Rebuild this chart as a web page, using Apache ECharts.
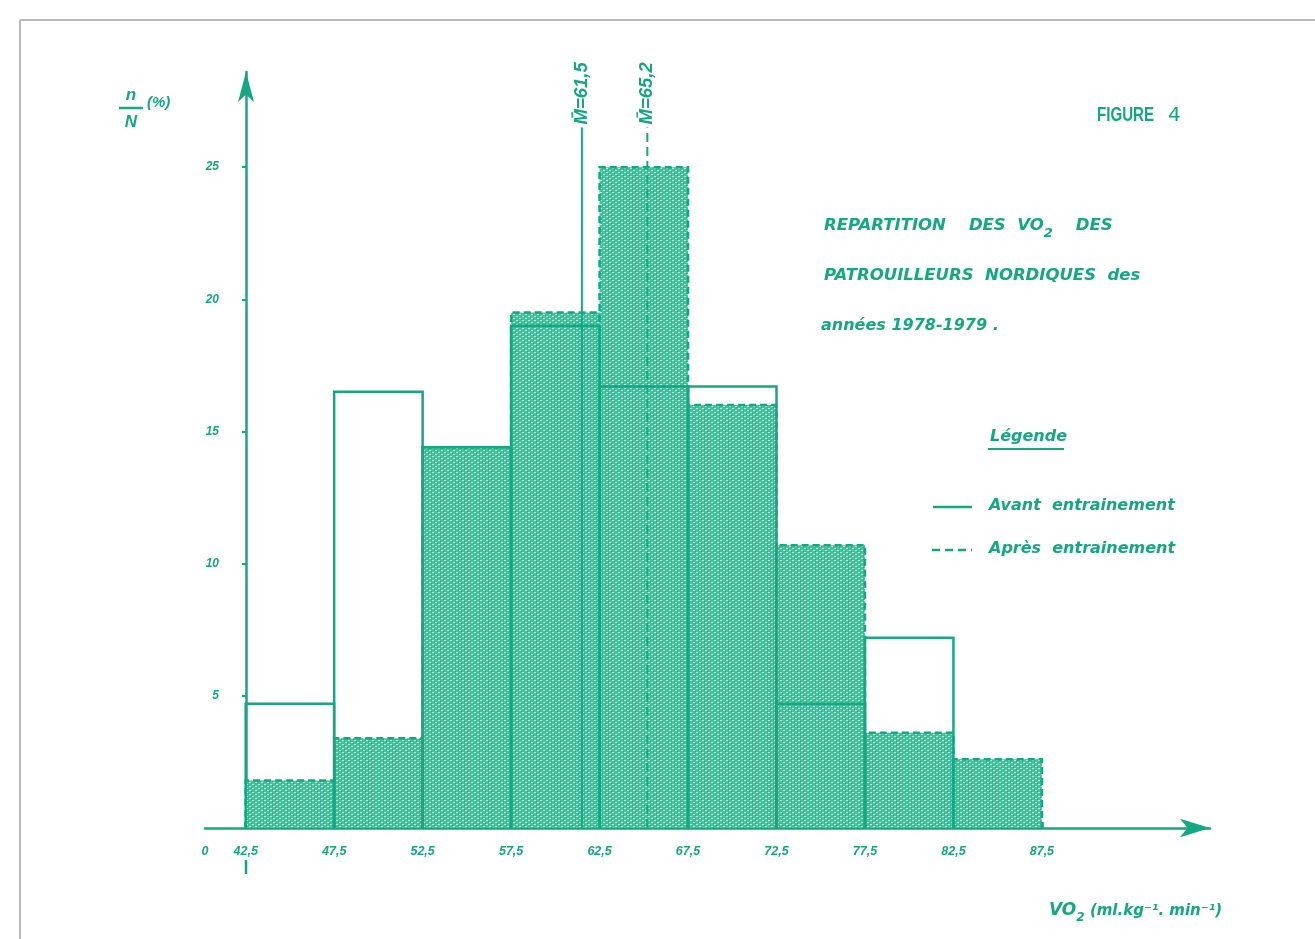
<!DOCTYPE html>
<html><head><meta charset="utf-8">
<script src="https://cdn.jsdelivr.net/npm/echarts@6/dist/echarts.min.js"></script>
<style>html,body{margin:0;padding:0;background:#fff}#c{width:1315px;height:939px}</style>
</head><body><div id="c"></div>
<script>
// ---- data ----
const binStarts = [42.5, 47.5, 52.5, 57.5, 62.5, 67.5, 72.5, 77.5, 82.5];
const binWidth = 5;
const avant = [4.7, 16.5, 14.4, 19.0, 16.7, 16.7, 4.7, 7.2, 0];   // Avant entrainement (%)
const apres = [1.8, 3.4, 14.4, 19.5, 25.0, 16.0, 10.7, 3.6, 2.6];  // Après entrainement (%)
const means = [61.5, 65.2];
const meanLabels = ['M\u0304=61,5', 'M\u0304=65,2'];
const meanStyles = ['solid', 'dashed'];
const xTicks = [42.5, 47.5, 52.5, 57.5, 62.5, 67.5, 72.5, 77.5, 82.5, 87.5];
const xTickLabels = ['42,5', '47,5', '52,5', '57,5', '62,5', '67,5', '72,5', '77,5', '82,5', '87,5'];
const xOriginLabel = '0';
const yTicks = [5, 10, 15, 20, 25];
const yTickLabels = ['5', '10', '15', '20', '25'];

// ---- style ----
const C = '#14a882';
const FF = '"Liberation Sans", Arial, sans-serif';
const FD = '"DejaVu Sans", "Liberation Sans", sans-serif';
const xMin = 40.2, xMax = 97.0, yMax = 28.6, meanTop = 26.5;

// hatch pattern
const pc = document.createElement('canvas');
pc.width = 6; pc.height = 4;
const g = pc.getContext('2d');
g.fillStyle = '#3fc4a0'; g.fillRect(0, 0, 6, 4);
g.fillStyle = '#b4efdd';
g.fillRect(0, 0, 2, 1); g.fillRect(3, 2, 2, 1);
g.fillStyle = '#1fae88';
g.fillRect(2, 1, 1, 1); g.fillRect(5, 3, 1, 1);
const pattern = { image: pc, repeat: 'repeat' };

const apresData = binStarts.map((s, i) => [s, s + binWidth, apres[i]]).filter(d => d[2] > 0);
const avantData = binStarts.map((s, i) => [s, s + binWidth, avant[i]]).filter(d => d[2] > 0);
const meanData = means.map((m, i) => [m, i]);

function barShape(api) {
  const x0 = api.value(0), x1 = api.value(1), v = api.value(2);
  const b = api.coord([x0, 0]), t = api.coord([x1, v]);
  return { l: b[0], r: t[0], b: b[1], t: t[1] };
}
function txt(x, y, text, size, fam, align) {
  return { type: 'text', x, y, style: { text, fill: C, font: 'italic bold ' + size + 'px ' + (fam || FD), align: align || 'left', verticalAlign: 'middle' } };
}

const chart = echarts.init(document.getElementById('c'), null, { renderer: 'canvas' });
chart.setOption({
  animation: false,
  backgroundColor: '#ffffff',
  grid: { left: 205, right: 105, top: 72, bottom: 111, containLabel: false },
  xAxis: {
    type: 'value', min: xMin, max: xMax,
    axisLine: { show: true, onZero: false, symbol: ['none', 'arrow'], symbolSize: [14, 30],
      lineStyle: { color: C, width: 2.5 } },
    axisTick: { show: true, customValues: xTicks, length: 6, inside: true, lineStyle: { color: C, width: 2.5 } },
    axisLabel: {
      show: true, customValues: [xMin].concat(xTicks), margin: 17, color: C,
      fontStyle: 'italic', fontWeight: 'bold', fontSize: 12.5, fontFamily: FF,
      formatter: v => {
        if (Math.abs(v - xMin) < 1e-6) return xOriginLabel;
        const i = xTicks.findIndex(t => Math.abs(t - v) < 1e-6);
        return i >= 0 ? xTickLabels[i] : '';
      }
    },
    splitLine: { show: false }
  },
  yAxis: {
    type: 'value', min: 0, max: yMax, position: 'left', offset: -41,
    axisLine: { show: true, onZero: false, symbol: ['none', 'arrow'], symbolSize: [12, 30],
      lineStyle: { color: C, width: 2.5 } },
    axisTick: { show: true, customValues: yTicks, length: 4, lineStyle: { color: C, width: 2 } },
    axisLabel: {
      show: true, customValues: yTicks, margin: 27, color: C,
      fontStyle: 'italic', fontWeight: 'bold', fontSize: 12, fontFamily: FF,
      formatter: v => { const i = yTicks.indexOf(v); return i >= 0 ? yTickLabels[i] : ''; }
    },
    splitLine: { show: false }
  },
  series: [
    {
      name: 'Après entrainement', type: 'custom', data: apresData, encode: { x: [0, 1], y: 2 },
      clip: false,
      renderItem: (params, api) => {
        const s = barShape(api);
        return { type: 'group', children: [
          { type: 'rect', shape: { x: s.l, y: s.t, width: s.r - s.l, height: s.b - s.t }, style: { fill: pattern } },
          { type: 'polyline', shape: { points: [[s.l, s.b], [s.l, s.t], [s.r, s.t], [s.r, s.b]] },
            style: { fill: null, stroke: C, lineWidth: 2.5, lineDash: [7, 4] } }
        ] };
      }
    },
    {
      name: 'Avant entrainement', type: 'custom', data: avantData, encode: { x: [0, 1], y: 2 },
      clip: false,
      renderItem: (params, api) => {
        const s = barShape(api);
        return { type: 'polyline', shape: { points: [[s.l, s.b], [s.l, s.t], [s.r, s.t], [s.r, s.b]] },
          style: { fill: null, stroke: C, lineWidth: 2.5 } };
      }
    },
    {
      name: 'Moyennes', type: 'custom', data: meanData, encode: { x: 0 },
      clip: false,
      renderItem: (params, api) => {
        const m = api.value(0), i = api.value(1);
        const b = api.coord([m, 0]), t = api.coord([m, meanTop]);
        return { type: 'group', children: [
          { type: 'line', shape: { x1: b[0], y1: b[1], x2: t[0], y2: t[1] },
            style: { stroke: C, lineWidth: 2, lineDash: meanStyles[i] === 'dashed' ? [9, 5] : null } },
          { type: 'text', x: t[0], y: t[1] - 3, rotation: Math.PI / 2,
            style: { text: meanLabels[i], fill: C, font: 'italic bold 18.5px ' + FF,
              align: 'left', verticalAlign: 'middle' } }
        ] };
      }
    }
  ],
  graphic: [
    { type: 'line', shape: { x1: 20, y1: 20, x2: 1315, y2: 20 }, style: { stroke: '#b9b9b9', lineWidth: 2 } },
    { type: 'line', shape: { x1: 20, y1: 20, x2: 20, y2: 939 }, style: { stroke: '#b9b9b9', lineWidth: 2 } },
    // y axis name n/N (%)
    txt(131, 95, 'n', 17, FF, 'center'),
    { type: 'line', shape: { x1: 119, y1: 108, x2: 143, y2: 108 }, style: { stroke: C, lineWidth: 2.5 } },
    txt(131, 122, 'N', 17, FF, 'center'),
    txt(147, 103, '(%)', 15, FF),
    // FIGURE 4
    { type: 'text', x: 1097, y: 115, scaleX: 0.72, style: { text: 'FIGURE', fill: C, font: 'bold 21px ' + FF, align: 'left', verticalAlign: 'middle' } },
    { type: 'text', x: 1168, y: 116, style: { text: '4', fill: C, font: '20px "DejaVu Sans", sans-serif', align: 'left', verticalAlign: 'middle' } },
    // title
    { type: 'text', x: 824, y: 211, style: {
      text: '{a|REPARTITION    DES  VO}{s|2}{a|    DES}', fill: C,
      rich: {
        a: { font: 'italic bold 16.5px ' + FD, fill: C },
        s: { font: 'italic bold 13px ' + FD, fill: C, padding: [16, 0, 0, 0] }
      } } },
    txt(824, 276, 'PATROUILLEURS  NORDIQUES  des', 16.5),
    txt(821, 326, 'années 1978-1979 .', 16),
    // legend
    txt(990, 437, 'Légende', 16),
    { type: 'line', shape: { x1: 988, y1: 449, x2: 1064, y2: 449 }, style: { stroke: C, lineWidth: 2 } },
    { type: 'line', shape: { x1: 933, y1: 507, x2: 972, y2: 507 }, style: { stroke: C, lineWidth: 2.5 } },
    txt(989, 506, 'Avant  entrainement', 16),
    { type: 'line', shape: { x1: 932, y1: 550, x2: 972, y2: 550 }, style: { stroke: C, lineWidth: 2.5, lineDash: [8, 5] } },
    txt(989, 549, 'Après  entrainement', 16),
    // x axis name
    { type: 'text', x: 1049, y: 898, style: {
      text: '{a|VO}{s|2}{b| (ml.kg⁻¹. min⁻¹)}', fill: C,
      rich: {
        a: { font: 'italic bold 17px ' + FD, fill: C },
        s: { font: 'italic bold 12px ' + FD, fill: C, padding: [14, 0, 0, 0] },
        b: { font: 'italic bold 15px ' + FD, fill: C }
      } } },
    // small mark under origin tick
    { type: 'line', shape: { x1: 246, y1: 860, x2: 246, y2: 874 }, style: { stroke: C, lineWidth: 2.5 } }
  ]
});
</script>
</body></html>
